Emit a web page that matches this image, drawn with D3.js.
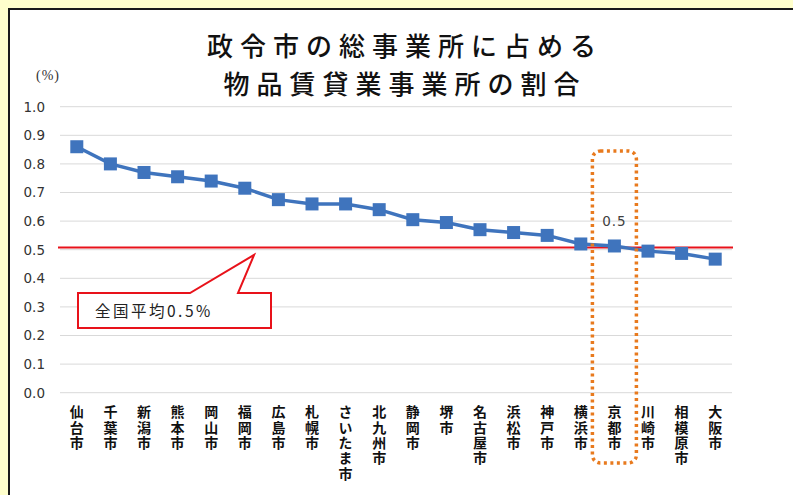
<!DOCTYPE html>
<html><head><meta charset="utf-8">
<script src="https://cdn.jsdelivr.net/npm/d3@7/dist/d3.min.js"></script>
<style>
html,body{margin:0;padding:0;background:#ffffcc;}
svg{display:block;}
.vt{writing-mode:vertical-rl;text-orientation:upright;}
</style></head>
<body>
<svg id="c" width="793" height="495"></svg>
<script>
const titleLines = ["政令市の総事業所に占める", "物品賃貸業事業所の割合"];
const unitLabel = "(%)";
const cities = ["仙台市","千葉市","新潟市","熊本市","岡山市","福岡市","広島市","札幌市","さいたま市","北九州市","静岡市","堺市","名古屋市","浜松市","神戸市","横浜市","京都市","川崎市","相模原市","大阪市"];
const shares = [0.86,0.80,0.77,0.755,0.74,0.715,0.675,0.66,0.66,0.64,0.605,0.595,0.57,0.56,0.55,0.52,0.513,0.495,0.487,0.467];
const yTicks = [0,0.1,0.2,0.3,0.4,0.5,0.6,0.7,0.8,0.9,1.0];
const nationalAvg = 0.508;
const calloutText = "全国平均0.5%";
const highlightCity = "京都市";
const highlightLabel = "0.5";

const svg = d3.select("#c");
// frame
svg.append("rect").attr("x",9).attr("y",9).attr("width",800).attr("height",500)
  .attr("fill","#ffffff").attr("stroke","#1a1a1a").attr("stroke-width",2);

const x = d3.scaleBand().domain(cities).range([60,732]).padding(0);
const y = d3.scaleLinear().domain([0,1]).range([392.7,106.7]);

// title
svg.append("g").selectAll("text").data(titleLines).join("text")
  .attr("text-anchor","middle")
  .attr("font-family","'Noto Sans CJK JP', sans-serif").attr("font-weight",500)
  .attr("font-size",26).attr("letter-spacing","7px").attr("fill","#111")
  .attr("x",405).attr("y",(d,i)=>56+i*37.8).text(d=>d);

svg.append("text").attr("x",36).attr("y",80).attr("font-family","'Liberation Serif', serif")
  .attr("font-size",14).attr("letter-spacing","1px").attr("fill","#333").text(unitLabel);

// grid
svg.append("g").selectAll("line").data(yTicks).join("line")
  .attr("x1",60).attr("x2",732).attr("y1",d=>y(d)).attr("y2",d=>y(d))
  .attr("stroke","#d9d9d9").attr("stroke-width",1);

// y axis labels
const yAxis = d3.axisLeft(y).tickValues(yTicks).tickFormat(d3.format(".1f")).tickSize(0).tickPadding(0);
const ya = svg.append("g").attr("transform","translate(45,0)").call(yAxis);
ya.select(".domain").remove();
ya.selectAll("text").attr("font-family","'DejaVu Sans', sans-serif").attr("font-size",13.5).attr("fill","#333");

// x labels vertical
svg.append("g").selectAll("text").data(cities).join("text")
  .attr("class","vt")
  .attr("x",d=>x(d)+x.bandwidth()/2).attr("y",405)
  .attr("font-family","'Noto Sans CJK JP', sans-serif").attr("font-weight",700)
  .attr("font-size",14).attr("letter-spacing","1.3px").attr("fill","#111")
  .text(d=>d);

// national avg line
svg.append("line").attr("x1",58).attr("x2",733).attr("y1",y(nationalAvg)).attr("y2",y(nationalAvg))
  .attr("stroke","#e8121a").attr("stroke-width",2);

// series
const cx = d=>x(d)+x.bandwidth()/2;
svg.append("path").datum(cities)
  .attr("d",d3.line().x(d=>cx(d)).y((d,i)=>y(shares[i])))
  .attr("fill","none").attr("stroke","#3f74bd").attr("stroke-width",3.5);
svg.append("g").selectAll("rect").data(cities).join("rect")
  .attr("x",d=>cx(d)-6.5).attr("y",(d,i)=>y(shares[i])-6.5)
  .attr("width",13).attr("height",13).attr("fill","#3f74bd");

// highlight dotted box
const hx = cx(highlightCity);
svg.append("rect").attr("x",hx-22).attr("y",151).attr("width",44).attr("height",312)
  .attr("rx",8).attr("fill","none").attr("stroke","#e87a1e").attr("stroke-width",3.5)
  .attr("stroke-dasharray","3,3.5");
svg.append("text").attr("x",hx).attr("y",226).attr("text-anchor","middle")
  .attr("font-family","'DejaVu Sans', sans-serif").attr("font-size",13.5).attr("letter-spacing","1px").attr("fill","#404040")
  .text(highlightLabel);

// callout
const bx0=78,bx1=271,by0=293,by1=328;
const ax = x(cities[6])-7.5, ay = y(0.482);
svg.append("path").attr("d",`M${bx0},${by0}H190L${ax},${ay}L238,${by0}H${bx1}V${by1}H${bx0}Z`)
  .attr("fill","#ffffff").attr("stroke","#e8121a").attr("stroke-width",2);
svg.append("text").attr("x",95).attr("y",317).attr("font-family","'Noto Sans CJK JP', sans-serif")
  .attr("font-size",15.5).attr("letter-spacing","2.5px").attr("fill","#222").text(calloutText);
</script>
</body></html>
